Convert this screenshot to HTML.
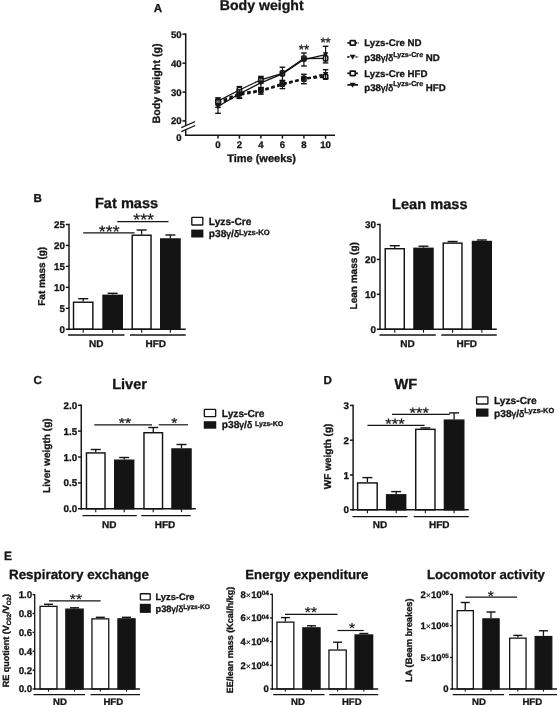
<!DOCTYPE html>
<html lang="en">
<head>
<meta charset="utf-8">
<title>Figure</title>
<style>
html,body{margin:0;padding:0;background:#fff;}
body{width:559px;height:705px;overflow:hidden;}
svg{display:block;will-change:transform;}
svg text{font-family:"Liberation Sans",Arial,Helvetica,sans-serif;font-weight:bold;fill:#141414;stroke:#141414;stroke-width:0.3px;paint-order:stroke;text-rendering:geometricPrecision;}
svg text .sym{font-weight:normal;stroke-width:0.5px;font-size:0.92em;}
svg text .x{font-weight:normal;stroke-width:0.2px;}
svg text.st{font-weight:normal;stroke-width:0.25px;}
</style>
</head>
<body>
<svg width="559" height="705" viewBox="0 0 559 705">
<rect x="0" y="0" width="559" height="705" fill="#fff"/>
<text x="153.8" y="11.8" font-size="11.6" text-anchor="start" >A</text>
<text x="219.8" y="10.4" font-size="14.1" text-anchor="start" >Body weight</text>
<line x1="185.7" y1="33.35" x2="185.7" y2="135.95" stroke="#141414" stroke-width="1.5" />
<line x1="184.95" y1="135.2" x2="335" y2="135.2" stroke="#141414" stroke-width="1.5" />
<polygon points="181.3,132.1 195.2,125.9 195.2,121.1 181.3,127.3" fill="#fff"/>
<line x1="181.3" y1="127.7" x2="195.2" y2="121.5" stroke="#141414" stroke-width="1.3" />
<line x1="181.3" y1="131.7" x2="195.2" y2="125.5" stroke="#141414" stroke-width="1.3" />
<line x1="182.5" y1="34.2" x2="185.7" y2="34.2" stroke="#141414" stroke-width="1.5" />
<text x="181.7" y="37.7" font-size="9.6" text-anchor="end" >50</text>
<line x1="182.5" y1="63.2" x2="185.7" y2="63.2" stroke="#141414" stroke-width="1.5" />
<text x="181.7" y="66.7" font-size="9.6" text-anchor="end" >40</text>
<line x1="182.5" y1="92.1" x2="185.7" y2="92.1" stroke="#141414" stroke-width="1.5" />
<text x="181.7" y="95.6" font-size="9.6" text-anchor="end" >30</text>
<line x1="182.5" y1="120.9" x2="185.7" y2="120.9" stroke="#141414" stroke-width="1.5" />
<text x="181.7" y="124.4" font-size="9.6" text-anchor="end" >20</text>
<text x="181.7" y="141.2" font-size="9.6" text-anchor="end" >0</text>
<line x1="218" y1="135.2" x2="218" y2="138.6" stroke="#141414" stroke-width="1.5" />
<text x="218" y="148.1" font-size="9.6" text-anchor="middle" >0</text>
<line x1="239.4" y1="135.2" x2="239.4" y2="138.6" stroke="#141414" stroke-width="1.5" />
<text x="239.4" y="148.1" font-size="9.6" text-anchor="middle" >2</text>
<line x1="260.9" y1="135.2" x2="260.9" y2="138.6" stroke="#141414" stroke-width="1.5" />
<text x="260.9" y="148.1" font-size="9.6" text-anchor="middle" >4</text>
<line x1="282.4" y1="135.2" x2="282.4" y2="138.6" stroke="#141414" stroke-width="1.5" />
<text x="282.4" y="148.1" font-size="9.6" text-anchor="middle" >6</text>
<line x1="303.9" y1="135.2" x2="303.9" y2="138.6" stroke="#141414" stroke-width="1.5" />
<text x="303.9" y="148.1" font-size="9.6" text-anchor="middle" >8</text>
<line x1="325.6" y1="135.2" x2="325.6" y2="138.6" stroke="#141414" stroke-width="1.5" />
<text x="325.6" y="148.1" font-size="9.6" text-anchor="middle" >10</text>
<text x="261.6" y="162.1" font-size="11" text-anchor="middle" >Time (weeks)</text>
<text transform="translate(159.8 83.5) rotate(-90)" font-size="10.7" text-anchor="middle">Body weight (g)</text>
<polyline points="218,102.3 239.4,93.4 260.9,90.4 282.4,83.8 303.9,78.7 325.6,76.8" fill="none" stroke="#141414" stroke-width="2.1" stroke-dasharray="3.6 2.6"/>
<rect x="215.9" y="99.8" width="4.2" height="5.0" rx="0.8" fill="#fff" stroke="#141414" stroke-width="1.6"/>
<rect x="237.3" y="90.9" width="4.2" height="5.0" rx="0.8" fill="#fff" stroke="#141414" stroke-width="1.6"/>
<rect x="258.79999999999995" y="87.9" width="4.2" height="5.0" rx="0.8" fill="#fff" stroke="#141414" stroke-width="1.6"/>
<rect x="280.29999999999995" y="81.3" width="4.2" height="5.0" rx="0.8" fill="#fff" stroke="#141414" stroke-width="1.6"/>
<rect x="301.79999999999995" y="76.2" width="4.2" height="5.0" rx="0.8" fill="#fff" stroke="#141414" stroke-width="1.6"/>
<rect x="323.5" y="74.3" width="4.2" height="5.0" rx="0.8" fill="#fff" stroke="#141414" stroke-width="1.6"/>
<polyline points="218,104.0 239.4,95.0 260.9,91.0 282.4,84.6 303.9,79.0 325.6,74.2" fill="none" stroke="#141414" stroke-width="2.1" stroke-dasharray="3.6 2.6"/>
<line x1="218" y1="100.6" x2="218" y2="107.4" stroke="#141414" stroke-width="1.2" />
<line x1="215.2" y1="100.6" x2="220.8" y2="100.6" stroke="#141414" stroke-width="1.4" />
<line x1="215.2" y1="107.4" x2="220.8" y2="107.4" stroke="#141414" stroke-width="1.4" />
<line x1="239.4" y1="91.6" x2="239.4" y2="98.4" stroke="#141414" stroke-width="1.2" />
<line x1="236.6" y1="91.6" x2="242.20000000000002" y2="91.6" stroke="#141414" stroke-width="1.4" />
<line x1="236.6" y1="98.4" x2="242.20000000000002" y2="98.4" stroke="#141414" stroke-width="1.4" />
<line x1="260.9" y1="87.8" x2="260.9" y2="94.2" stroke="#141414" stroke-width="1.2" />
<line x1="258.09999999999997" y1="87.8" x2="263.7" y2="87.8" stroke="#141414" stroke-width="1.4" />
<line x1="258.09999999999997" y1="94.2" x2="263.7" y2="94.2" stroke="#141414" stroke-width="1.4" />
<line x1="282.4" y1="80.6" x2="282.4" y2="88.6" stroke="#141414" stroke-width="1.2" />
<line x1="279.59999999999997" y1="80.6" x2="285.2" y2="80.6" stroke="#141414" stroke-width="1.4" />
<line x1="279.59999999999997" y1="88.6" x2="285.2" y2="88.6" stroke="#141414" stroke-width="1.4" />
<line x1="303.9" y1="74.3" x2="303.9" y2="83.7" stroke="#141414" stroke-width="1.2" />
<line x1="301.09999999999997" y1="74.3" x2="306.7" y2="74.3" stroke="#141414" stroke-width="1.4" />
<line x1="301.09999999999997" y1="83.7" x2="306.7" y2="83.7" stroke="#141414" stroke-width="1.4" />
<line x1="325.6" y1="69.7" x2="325.6" y2="78.7" stroke="#141414" stroke-width="1.2" />
<line x1="322.8" y1="69.7" x2="328.40000000000003" y2="69.7" stroke="#141414" stroke-width="1.4" />
<line x1="322.8" y1="78.7" x2="328.40000000000003" y2="78.7" stroke="#141414" stroke-width="1.4" />
<polygon points="215.3,101.732 220.7,101.732 218,106.7" fill="#141414"/>
<polygon points="236.70000000000002,92.732 242.1,92.732 239.4,97.7" fill="#141414"/>
<polygon points="258.2,88.732 263.59999999999997,88.732 260.9,93.7" fill="#141414"/>
<polygon points="279.7,82.332 285.09999999999997,82.332 282.4,87.3" fill="#141414"/>
<polygon points="301.2,76.732 306.59999999999997,76.732 303.9,81.7" fill="#141414"/>
<polygon points="322.90000000000003,71.932 328.3,71.932 325.6,76.9" fill="#141414"/>
<polyline points="218,101.2 239.4,90.0 260.9,79.8 282.4,73.4 303.9,58.5 325.6,58.4" fill="none" stroke="#141414" stroke-width="1.3" />
<line x1="218" y1="97.8" x2="218" y2="104.60000000000001" stroke="#141414" stroke-width="1.2" />
<line x1="215.2" y1="97.8" x2="220.8" y2="97.8" stroke="#141414" stroke-width="1.4" />
<line x1="215.2" y1="104.60000000000001" x2="220.8" y2="104.60000000000001" stroke="#141414" stroke-width="1.4" />
<line x1="239.4" y1="86.6" x2="239.4" y2="93.4" stroke="#141414" stroke-width="1.2" />
<line x1="236.6" y1="86.6" x2="242.20000000000002" y2="86.6" stroke="#141414" stroke-width="1.4" />
<line x1="236.6" y1="93.4" x2="242.20000000000002" y2="93.4" stroke="#141414" stroke-width="1.4" />
<line x1="260.9" y1="76.39999999999999" x2="260.9" y2="83.2" stroke="#141414" stroke-width="1.2" />
<line x1="258.09999999999997" y1="76.39999999999999" x2="263.7" y2="76.39999999999999" stroke="#141414" stroke-width="1.4" />
<line x1="258.09999999999997" y1="83.2" x2="263.7" y2="83.2" stroke="#141414" stroke-width="1.4" />
<rect x="215.9" y="98.7" width="4.2" height="5.0" rx="0.8" fill="#fff" stroke="#141414" stroke-width="1.6"/>
<rect x="237.3" y="87.5" width="4.2" height="5.0" rx="0.8" fill="#fff" stroke="#141414" stroke-width="1.6"/>
<rect x="258.79999999999995" y="77.3" width="4.2" height="5.0" rx="0.8" fill="#fff" stroke="#141414" stroke-width="1.6"/>
<rect x="280.29999999999995" y="70.9" width="4.2" height="5.0" rx="0.8" fill="#fff" stroke="#141414" stroke-width="1.6"/>
<rect x="301.79999999999995" y="56.0" width="4.2" height="5.0" rx="0.8" fill="#fff" stroke="#141414" stroke-width="1.6"/>
<rect x="323.5" y="55.9" width="4.2" height="5.0" rx="0.8" fill="#fff" stroke="#141414" stroke-width="1.6"/>
<polyline points="218,106.5 239.4,93.8 260.9,82.8 282.4,73.8 303.9,59.5 325.6,54.6" fill="none" stroke="#141414" stroke-width="1.3" />
<line x1="218" y1="99.7" x2="218" y2="113.3" stroke="#141414" stroke-width="1.2" />
<line x1="215.2" y1="99.7" x2="220.8" y2="99.7" stroke="#141414" stroke-width="1.4" />
<line x1="215.2" y1="113.3" x2="220.8" y2="113.3" stroke="#141414" stroke-width="1.4" />
<line x1="239.4" y1="89.8" x2="239.4" y2="97.8" stroke="#141414" stroke-width="1.2" />
<line x1="236.6" y1="89.8" x2="242.20000000000002" y2="89.8" stroke="#141414" stroke-width="1.4" />
<line x1="236.6" y1="97.8" x2="242.20000000000002" y2="97.8" stroke="#141414" stroke-width="1.4" />
<line x1="260.9" y1="78.1" x2="260.9" y2="87.5" stroke="#141414" stroke-width="1.2" />
<line x1="258.09999999999997" y1="78.1" x2="263.7" y2="78.1" stroke="#141414" stroke-width="1.4" />
<line x1="258.09999999999997" y1="87.5" x2="263.7" y2="87.5" stroke="#141414" stroke-width="1.4" />
<line x1="282.4" y1="67.2" x2="282.4" y2="80.39999999999999" stroke="#141414" stroke-width="1.2" />
<line x1="279.59999999999997" y1="67.2" x2="285.2" y2="67.2" stroke="#141414" stroke-width="1.4" />
<line x1="279.59999999999997" y1="80.39999999999999" x2="285.2" y2="80.39999999999999" stroke="#141414" stroke-width="1.4" />
<line x1="303.9" y1="53.0" x2="303.9" y2="66.0" stroke="#141414" stroke-width="1.2" />
<line x1="301.09999999999997" y1="53.0" x2="306.7" y2="53.0" stroke="#141414" stroke-width="1.4" />
<line x1="301.09999999999997" y1="66.0" x2="306.7" y2="66.0" stroke="#141414" stroke-width="1.4" />
<line x1="325.6" y1="46.3" x2="325.6" y2="62.900000000000006" stroke="#141414" stroke-width="1.2" />
<line x1="322.8" y1="46.3" x2="328.40000000000003" y2="46.3" stroke="#141414" stroke-width="1.4" />
<line x1="322.8" y1="62.900000000000006" x2="328.40000000000003" y2="62.900000000000006" stroke="#141414" stroke-width="1.4" />
<polygon points="215.3,104.232 220.7,104.232 218,109.2" fill="#141414"/>
<polygon points="236.70000000000002,91.532 242.1,91.532 239.4,96.5" fill="#141414"/>
<polygon points="258.2,80.532 263.59999999999997,80.532 260.9,85.5" fill="#141414"/>
<polygon points="279.7,71.532 285.09999999999997,71.532 282.4,76.5" fill="#141414"/>
<polygon points="301.2,57.232 306.59999999999997,57.232 303.9,62.2" fill="#141414"/>
<polygon points="322.90000000000003,52.332 328.3,52.332 325.6,57.300000000000004" fill="#141414"/>
<text x="304" y="53.6" font-size="13.4" text-anchor="middle" class="st">**</text>
<text x="325.6" y="47.4" font-size="13.4" text-anchor="middle" class="st">**</text>
<line x1="347.3" y1="42.9" x2="351" y2="42.9" stroke="#141414" stroke-width="1.7" />
<line x1="355" y1="42.9" x2="357.2" y2="42.9" stroke="#141414" stroke-width="1.7" />
<line x1="357.9" y1="42.9" x2="358.5" y2="42.9" stroke="#141414" stroke-width="1.5" />
<rect x="350.25" y="40.699999999999996" width="5.0" height="4.5" rx="0.5" fill="#fff" stroke="#141414" stroke-width="1.7"/>
<text x="364.3" y="46.3" font-size="9.7" text-anchor="start" >Lyzs-Cre ND</text>
<line x1="347.3" y1="56.9" x2="349.5" y2="56.9" stroke="#141414" stroke-width="1.7" />
<line x1="355.6" y1="56.9" x2="356.7" y2="56.9" stroke="#141414" stroke-width="1.7" />
<line x1="357.6" y1="56.9" x2="358.2" y2="56.9" stroke="#141414" stroke-width="1.5" />
<polygon points="350.0,55.0 355.20000000000005,55.0 352.6,59.3" fill="#141414" stroke="#141414" stroke-width="0.5" stroke-linejoin="round"/>
<text x="364.3" y="61.3" font-size="9.7" text-anchor="start" >p38<tspan class="sym">γ</tspan>/<tspan class="sym">δ</tspan><tspan font-size="7.18" dy="-4.5">Lyzs-Cre</tspan><tspan dy="4.5"> ND</tspan></text>
<line x1="347.3" y1="73.3" x2="358.0" y2="73.3" stroke="#141414" stroke-width="1.7" />
<rect x="350.25" y="71.1" width="5.0" height="4.5" rx="0.5" fill="#fff" stroke="#141414" stroke-width="1.7"/>
<text x="364.3" y="76.7" font-size="9.7" text-anchor="start" >Lyzs-Cre HFD</text>
<line x1="347.3" y1="84.9" x2="358.0" y2="84.9" stroke="#141414" stroke-width="1.7" />
<polygon points="350.0,83.0 355.20000000000005,83.0 352.6,87.30000000000001" fill="#141414" stroke="#141414" stroke-width="0.5" stroke-linejoin="round"/>
<text x="364.3" y="90.5" font-size="9.7" text-anchor="start" >p38<tspan class="sym">γ</tspan>/<tspan class="sym">δ</tspan><tspan font-size="7.18" dy="-4.5">Lyzs-Cre</tspan><tspan dy="4.5"> HFD</tspan></text>
<text x="33.6" y="202.0" font-size="11.6" text-anchor="start" >B</text>
<text x="126.6" y="208.4" font-size="14.6" text-anchor="middle" >Fat mass</text>
<line x1="83.19999999999999" y1="298.7" x2="83.19999999999999" y2="301.5" stroke="#141414" stroke-width="1.3" />
<line x1="78.19999999999999" y1="298.7" x2="88.19999999999999" y2="298.7" stroke="#141414" stroke-width="1.4" />
<rect x="73.52499999999999" y="302.225" width="19.349999999999998" height="27.025" fill="#fff" stroke="#141414" stroke-width="1.45"/>
<line x1="83.19999999999999" y1="329.25" x2="83.19999999999999" y2="332.65" stroke="#141414" stroke-width="1.1" />
<line x1="112.65" y1="293.3" x2="112.65" y2="294.6" stroke="#141414" stroke-width="1.3" />
<line x1="107.65" y1="293.3" x2="117.65" y2="293.3" stroke="#141414" stroke-width="1.4" />
<rect x="103.02499999999999" y="295.32500000000005" width="19.250000000000004" height="33.924999999999976" fill="#141414" stroke="#141414" stroke-width="1.45"/>
<line x1="112.65" y1="329.25" x2="112.65" y2="332.65" stroke="#141414" stroke-width="1.1" />
<line x1="141.625" y1="230" x2="141.625" y2="234.5" stroke="#141414" stroke-width="1.3" />
<line x1="136.625" y1="230" x2="146.625" y2="230" stroke="#141414" stroke-width="1.4" />
<rect x="132.225" y="235.225" width="18.8" height="94.025" fill="#fff" stroke="#141414" stroke-width="1.45"/>
<line x1="141.625" y1="329.25" x2="141.625" y2="332.65" stroke="#141414" stroke-width="1.1" />
<line x1="170.375" y1="235" x2="170.375" y2="238.25" stroke="#141414" stroke-width="1.3" />
<line x1="165.375" y1="235" x2="175.375" y2="235" stroke="#141414" stroke-width="1.4" />
<rect x="160.725" y="238.975" width="19.3" height="90.275" fill="#141414" stroke="#141414" stroke-width="1.45"/>
<line x1="170.375" y1="329.25" x2="170.375" y2="332.65" stroke="#141414" stroke-width="1.1" />
<line x1="69.0" y1="223.775" x2="69.0" y2="329.975" stroke="#141414" stroke-width="1.45" />
<line x1="68.275" y1="329.25" x2="185.75" y2="329.25" stroke="#141414" stroke-width="1.45" />
<line x1="65.8" y1="329.25" x2="69.0" y2="329.25" stroke="#141414" stroke-width="1.45" />
<text x="64.9" y="332.76" font-size="9.8" text-anchor="end" >0</text>
<line x1="65.8" y1="308.3" x2="69.0" y2="308.3" stroke="#141414" stroke-width="1.45" />
<text x="64.9" y="311.81" font-size="9.8" text-anchor="end" >5</text>
<line x1="65.8" y1="287.35" x2="69.0" y2="287.35" stroke="#141414" stroke-width="1.45" />
<text x="64.9" y="290.86" font-size="9.8" text-anchor="end" >10</text>
<line x1="65.8" y1="266.4" x2="69.0" y2="266.4" stroke="#141414" stroke-width="1.45" />
<text x="64.9" y="269.91" font-size="9.8" text-anchor="end" >15</text>
<line x1="65.8" y1="245.45" x2="69.0" y2="245.45" stroke="#141414" stroke-width="1.45" />
<text x="64.9" y="248.96" font-size="9.8" text-anchor="end" >20</text>
<line x1="65.8" y1="224.5" x2="69.0" y2="224.5" stroke="#141414" stroke-width="1.45" />
<text x="64.9" y="228.01" font-size="9.8" text-anchor="end" >25</text>
<line x1="68" y1="335" x2="124.5" y2="335" stroke="#141414" stroke-width="1.33" />
<text x="96.3" y="347.2" font-size="10" text-anchor="middle" >ND</text>
<line x1="130" y1="335" x2="185.75" y2="335" stroke="#141414" stroke-width="1.33" />
<text x="155.8" y="347.2" font-size="10" text-anchor="middle" >HFD</text>
<text transform="translate(44.9 276.3) rotate(-90)" font-size="10" text-anchor="middle">Fat mass (g)</text>
<line x1="83.2" y1="232.9" x2="134.6" y2="232.9" stroke="#141414" stroke-width="1.2" />
<text transform="translate(109.2 236.5) scale(1 0.92)" font-size="17.7" text-anchor="middle" class="st">***</text>
<line x1="117.2" y1="221.6" x2="168.5" y2="221.6" stroke="#141414" stroke-width="1.2" />
<text transform="translate(143.6 225.2) scale(1 0.92)" font-size="17.7" text-anchor="middle" class="st">***</text>
<rect x="191.79999999999998" y="217.4" width="11.0" height="7.599999999999983" rx="0.6" fill="#fff" stroke="#141414" stroke-width="1.35"/>
<rect x="191.2" y="229.6" width="12.2" height="7.900000000000006" fill="#141414"/>
<text x="208.8" y="225" font-size="10.2" text-anchor="start" >Lyzs-Cre</text>
<text x="208.8" y="237.2" font-size="10.2" text-anchor="start" >p38<tspan class="sym">γ</tspan>/<tspan class="sym">δ</tspan><tspan font-size="7.65" dy="-2.6">Lyzs-KO</tspan></text>
<text x="429.8" y="208.8" font-size="14.6" text-anchor="middle" >Lean mass</text>
<line x1="394.75" y1="245.7" x2="394.75" y2="248" stroke="#141414" stroke-width="1.3" />
<line x1="389.75" y1="245.7" x2="399.75" y2="245.7" stroke="#141414" stroke-width="1.4" />
<rect x="385.225" y="248.725" width="19.05" height="80.525" fill="#fff" stroke="#141414" stroke-width="1.45"/>
<line x1="394.75" y1="329.25" x2="394.75" y2="332.65" stroke="#141414" stroke-width="1.1" />
<line x1="423.5" y1="246.2" x2="423.5" y2="247.6" stroke="#141414" stroke-width="1.3" />
<line x1="418.5" y1="246.2" x2="428.5" y2="246.2" stroke="#141414" stroke-width="1.4" />
<rect x="413.975" y="248.325" width="19.05" height="80.92500000000001" fill="#141414" stroke="#141414" stroke-width="1.45"/>
<line x1="423.5" y1="329.25" x2="423.5" y2="332.65" stroke="#141414" stroke-width="1.1" />
<line x1="452.6" y1="241.5" x2="452.6" y2="242.4" stroke="#141414" stroke-width="1.3" />
<line x1="447.6" y1="241.5" x2="457.6" y2="241.5" stroke="#141414" stroke-width="1.4" />
<rect x="443.225" y="243.125" width="18.74999999999999" height="86.125" fill="#fff" stroke="#141414" stroke-width="1.45"/>
<line x1="452.6" y1="329.25" x2="452.6" y2="332.65" stroke="#141414" stroke-width="1.1" />
<line x1="481.875" y1="240.0" x2="481.875" y2="240.8" stroke="#141414" stroke-width="1.3" />
<line x1="476.875" y1="240.0" x2="486.875" y2="240.0" stroke="#141414" stroke-width="1.4" />
<rect x="472.475" y="241.525" width="18.8" height="87.725" fill="#141414" stroke="#141414" stroke-width="1.45"/>
<line x1="481.875" y1="329.25" x2="481.875" y2="332.65" stroke="#141414" stroke-width="1.1" />
<line x1="380" y1="223.775" x2="380" y2="329.975" stroke="#141414" stroke-width="1.45" />
<line x1="379.275" y1="329.25" x2="496.75" y2="329.25" stroke="#141414" stroke-width="1.45" />
<line x1="376.8" y1="329.25" x2="380" y2="329.25" stroke="#141414" stroke-width="1.45" />
<text x="375.9" y="332.76" font-size="9.8" text-anchor="end" >0</text>
<line x1="376.8" y1="294.3333333333333" x2="380" y2="294.3333333333333" stroke="#141414" stroke-width="1.45" />
<text x="375.9" y="297.84" font-size="9.8" text-anchor="end" >10</text>
<line x1="376.8" y1="259.4166666666667" x2="380" y2="259.4166666666667" stroke="#141414" stroke-width="1.45" />
<text x="375.9" y="262.93" font-size="9.8" text-anchor="end" >20</text>
<line x1="376.8" y1="224.5" x2="380" y2="224.5" stroke="#141414" stroke-width="1.45" />
<text x="375.9" y="228.01" font-size="9.8" text-anchor="end" >30</text>
<line x1="379.5" y1="335" x2="435.75" y2="335" stroke="#141414" stroke-width="1.33" />
<text x="407.5" y="347.2" font-size="10" text-anchor="middle" >ND</text>
<line x1="441.25" y1="335" x2="496.75" y2="335" stroke="#141414" stroke-width="1.33" />
<text x="466.8" y="347.2" font-size="10" text-anchor="middle" >HFD</text>
<text transform="translate(356.6 275.8) rotate(-90)" font-size="10" text-anchor="middle">Lean mass (g)</text>
<text x="33.4" y="383.8" font-size="11.6" text-anchor="start" >C</text>
<text x="129.6" y="388.8" font-size="14.6" text-anchor="middle" >Liver</text>
<line x1="95.75" y1="449.5" x2="95.75" y2="452.2" stroke="#141414" stroke-width="1.3" />
<line x1="90.75" y1="449.5" x2="100.75" y2="449.5" stroke="#141414" stroke-width="1.4" />
<rect x="86.475" y="452.925" width="18.55" height="55.82500000000001" fill="#fff" stroke="#141414" stroke-width="1.45"/>
<line x1="95.75" y1="508.75" x2="95.75" y2="512.15" stroke="#141414" stroke-width="1.1" />
<line x1="124.2" y1="457.5" x2="124.2" y2="459.5" stroke="#141414" stroke-width="1.3" />
<line x1="119.2" y1="457.5" x2="129.2" y2="457.5" stroke="#141414" stroke-width="1.4" />
<rect x="114.725" y="460.225" width="18.950000000000006" height="48.525" fill="#141414" stroke="#141414" stroke-width="1.45"/>
<line x1="124.2" y1="508.75" x2="124.2" y2="512.15" stroke="#141414" stroke-width="1.1" />
<line x1="153.25" y1="427.5" x2="153.25" y2="432" stroke="#141414" stroke-width="1.3" />
<line x1="148.25" y1="427.5" x2="158.25" y2="427.5" stroke="#141414" stroke-width="1.4" />
<rect x="143.975" y="432.725" width="18.55" height="76.025" fill="#fff" stroke="#141414" stroke-width="1.45"/>
<line x1="153.25" y1="508.75" x2="153.25" y2="512.15" stroke="#141414" stroke-width="1.1" />
<line x1="181.5" y1="444.5" x2="181.5" y2="448.25" stroke="#141414" stroke-width="1.3" />
<line x1="176.5" y1="444.5" x2="186.5" y2="444.5" stroke="#141414" stroke-width="1.4" />
<rect x="171.975" y="448.975" width="19.05" height="59.775" fill="#141414" stroke="#141414" stroke-width="1.45"/>
<line x1="181.5" y1="508.75" x2="181.5" y2="512.15" stroke="#141414" stroke-width="1.1" />
<line x1="81.25" y1="404.525" x2="81.25" y2="509.475" stroke="#141414" stroke-width="1.45" />
<line x1="80.525" y1="508.75" x2="195.75" y2="508.75" stroke="#141414" stroke-width="1.45" />
<line x1="78.05" y1="508.75" x2="81.25" y2="508.75" stroke="#141414" stroke-width="1.45" />
<text x="77.15" y="512.26" font-size="9.8" text-anchor="end" >0.0</text>
<line x1="78.05" y1="482.875" x2="81.25" y2="482.875" stroke="#141414" stroke-width="1.45" />
<text x="77.15" y="486.38" font-size="9.8" text-anchor="end" >0.5</text>
<line x1="78.05" y1="457.0" x2="81.25" y2="457.0" stroke="#141414" stroke-width="1.45" />
<text x="77.15" y="460.51" font-size="9.8" text-anchor="end" >1.0</text>
<line x1="78.05" y1="431.125" x2="81.25" y2="431.125" stroke="#141414" stroke-width="1.45" />
<text x="77.15" y="434.63" font-size="9.8" text-anchor="end" >1.5</text>
<line x1="78.05" y1="405.25" x2="81.25" y2="405.25" stroke="#141414" stroke-width="1.45" />
<text x="77.15" y="408.76" font-size="9.8" text-anchor="end" >2.0</text>
<line x1="82.5" y1="515.6" x2="136.75" y2="515.6" stroke="#141414" stroke-width="1.33" />
<text x="109.3" y="527.6" font-size="10" text-anchor="middle" >ND</text>
<line x1="141.25" y1="515.6" x2="190.75" y2="515.6" stroke="#141414" stroke-width="1.33" />
<text x="165" y="527.6" font-size="10" text-anchor="middle" >HFD</text>
<text transform="translate(49.6 455.6) rotate(-90)" font-size="10.1" text-anchor="middle">Liver weigth (g)</text>
<line x1="94.25" y1="424.8" x2="152" y2="424.8" stroke="#141414" stroke-width="1.2" />
<text transform="translate(125.0 427.5) scale(1 0.92)" font-size="15.8" text-anchor="middle" class="st">**</text>
<line x1="158.75" y1="424.8" x2="188" y2="424.8" stroke="#141414" stroke-width="1.2" />
<text transform="translate(174.3 427.5) scale(1 0.92)" font-size="15.8" text-anchor="middle" class="st">*</text>
<rect x="204.35" y="409.40000000000003" width="11.3" height="7.3" rx="0.6" fill="#fff" stroke="#141414" stroke-width="1.35"/>
<rect x="203.75" y="421.2" width="12.5" height="7.5" fill="#141414"/>
<text x="221.8" y="416.8" font-size="10.2" text-anchor="start" >Lyzs-Cre</text>
<text x="221.8" y="428.3" font-size="10.2" text-anchor="start" >p38<tspan class="sym">γ</tspan>/<tspan class="sym">δ</tspan> <tspan font-size="7.04" dy="-2.3">Lyzs-KO</tspan></text>
<text x="323.4" y="383.8" font-size="11.6" text-anchor="start" >D</text>
<text x="405.8" y="388.8" font-size="14.6" text-anchor="middle" >WF</text>
<line x1="367.4" y1="477.6" x2="367.4" y2="482.2" stroke="#141414" stroke-width="1.3" />
<line x1="362.4" y1="477.6" x2="372.4" y2="477.6" stroke="#141414" stroke-width="1.4" />
<rect x="357.625" y="482.925" width="19.55" height="26.87500000000002" fill="#fff" stroke="#141414" stroke-width="1.45"/>
<line x1="367.4" y1="509.8" x2="367.4" y2="513.2" stroke="#141414" stroke-width="1.1" />
<line x1="396.15" y1="491.6" x2="396.15" y2="494.1" stroke="#141414" stroke-width="1.3" />
<line x1="391.15" y1="491.6" x2="401.15" y2="491.6" stroke="#141414" stroke-width="1.4" />
<rect x="386.625" y="494.82500000000005" width="19.05" height="14.974999999999989" fill="#141414" stroke="#141414" stroke-width="1.45"/>
<line x1="396.15" y1="509.8" x2="396.15" y2="513.2" stroke="#141414" stroke-width="1.1" />
<line x1="425.35" y1="427.9" x2="425.35" y2="428.6" stroke="#141414" stroke-width="1.3" />
<line x1="420.35" y1="427.9" x2="430.35" y2="427.9" stroke="#141414" stroke-width="1.4" />
<rect x="415.725" y="429.32500000000005" width="19.24999999999999" height="80.475" fill="#fff" stroke="#141414" stroke-width="1.45"/>
<line x1="425.35" y1="509.8" x2="425.35" y2="513.2" stroke="#141414" stroke-width="1.1" />
<line x1="454.1" y1="412.9" x2="454.1" y2="419.4" stroke="#141414" stroke-width="1.3" />
<line x1="449.1" y1="412.9" x2="459.1" y2="412.9" stroke="#141414" stroke-width="1.4" />
<rect x="444.425" y="420.125" width="19.350000000000012" height="89.67500000000004" fill="#141414" stroke="#141414" stroke-width="1.45"/>
<line x1="454.1" y1="509.8" x2="454.1" y2="513.2" stroke="#141414" stroke-width="1.1" />
<line x1="353.1" y1="404.67499999999995" x2="353.1" y2="510.52500000000003" stroke="#141414" stroke-width="1.45" />
<line x1="352.375" y1="509.8" x2="468.75" y2="509.8" stroke="#141414" stroke-width="1.45" />
<line x1="349.90000000000003" y1="509.8" x2="353.1" y2="509.8" stroke="#141414" stroke-width="1.45" />
<text x="349.0" y="513.31" font-size="9.8" text-anchor="end" >0</text>
<line x1="349.90000000000003" y1="475.0" x2="353.1" y2="475.0" stroke="#141414" stroke-width="1.45" />
<text x="349.0" y="478.51" font-size="9.8" text-anchor="end" >1</text>
<line x1="349.90000000000003" y1="440.2" x2="353.1" y2="440.2" stroke="#141414" stroke-width="1.45" />
<text x="349.0" y="443.71" font-size="9.8" text-anchor="end" >2</text>
<line x1="349.90000000000003" y1="405.4" x2="353.1" y2="405.4" stroke="#141414" stroke-width="1.45" />
<text x="349.0" y="408.91" font-size="9.8" text-anchor="end" >3</text>
<line x1="352.5" y1="516.6" x2="407.5" y2="516.6" stroke="#141414" stroke-width="1.33" />
<text x="380" y="527.8" font-size="10" text-anchor="middle" >ND</text>
<line x1="413.75" y1="516.6" x2="468.75" y2="516.6" stroke="#141414" stroke-width="1.33" />
<text x="439.3" y="527.8" font-size="10" text-anchor="middle" >HFD</text>
<text transform="translate(330.6 456.4) rotate(-90)" font-size="10" text-anchor="middle">WF weigth (g)</text>
<line x1="367.5" y1="425.3" x2="424.6" y2="425.3" stroke="#141414" stroke-width="1.2" />
<text transform="translate(395 428.8) scale(1 0.92)" font-size="16.6" text-anchor="middle" class="st">***</text>
<line x1="392" y1="414.4" x2="449.8" y2="414.4" stroke="#141414" stroke-width="1.2" />
<text transform="translate(419.3 418.3) scale(1 0.92)" font-size="16.6" text-anchor="middle" class="st">***</text>
<rect x="476.6" y="396.90000000000003" width="11.3" height="7.100000000000011" rx="0.6" fill="#fff" stroke="#141414" stroke-width="1.35"/>
<rect x="476" y="408.5" width="12.5" height="8.199999999999989" fill="#141414"/>
<text x="494" y="404.0" font-size="10.2" text-anchor="start" >Lyzs-Cre</text>
<text x="494" y="417.0" font-size="10.2" text-anchor="start" >p38<tspan class="sym">γ</tspan>/<tspan class="sym">δ</tspan><tspan font-size="7.45" dy="-4.3">Lyzs-KO</tspan></text>
<text x="3.9" y="559.6" font-size="12" text-anchor="start" >E</text>
<text x="9.0" y="579.4" font-size="13.4" text-anchor="start" >Respiratory exchange</text>
<line x1="48.5" y1="604.3" x2="48.5" y2="605.7" stroke="#141414" stroke-width="1.3" />
<line x1="44.0" y1="604.3" x2="53.0" y2="604.3" stroke="#141414" stroke-width="1.4" />
<rect x="40.05" y="606.35" width="16.900000000000002" height="82.64999999999995" fill="#fff" stroke="#141414" stroke-width="1.3"/>
<line x1="48.5" y1="689.0" x2="48.5" y2="691.6" stroke="#141414" stroke-width="1.1" />
<line x1="74.5" y1="607.8" x2="74.5" y2="608.5" stroke="#141414" stroke-width="1.3" />
<line x1="70.0" y1="607.8" x2="79.0" y2="607.8" stroke="#141414" stroke-width="1.4" />
<rect x="65.85000000000001" y="609.15" width="17.299999999999994" height="79.85" fill="#141414" stroke="#141414" stroke-width="1.3"/>
<line x1="74.5" y1="689.0" x2="74.5" y2="691.6" stroke="#141414" stroke-width="1.1" />
<line x1="100.35" y1="617.3" x2="100.35" y2="618.2" stroke="#141414" stroke-width="1.3" />
<line x1="95.85" y1="617.3" x2="104.85" y2="617.3" stroke="#141414" stroke-width="1.4" />
<rect x="91.95" y="618.85" width="16.800000000000008" height="70.14999999999995" fill="#fff" stroke="#141414" stroke-width="1.3"/>
<line x1="100.35" y1="689.0" x2="100.35" y2="691.6" stroke="#141414" stroke-width="1.1" />
<line x1="126.5" y1="617.3" x2="126.5" y2="618.2" stroke="#141414" stroke-width="1.3" />
<line x1="122.0" y1="617.3" x2="131.0" y2="617.3" stroke="#141414" stroke-width="1.4" />
<rect x="117.95" y="618.85" width="17.09999999999999" height="70.14999999999995" fill="#141414" stroke="#141414" stroke-width="1.3"/>
<line x1="126.5" y1="689.0" x2="126.5" y2="691.6" stroke="#141414" stroke-width="1.1" />
<line x1="34.7" y1="593.95" x2="34.7" y2="689.65" stroke="#141414" stroke-width="1.3" />
<line x1="34.050000000000004" y1="689.0" x2="140" y2="689.0" stroke="#141414" stroke-width="1.3" />
<line x1="32.5" y1="689.0" x2="34.7" y2="689.0" stroke="#141414" stroke-width="1.3" />
<text x="32.1" y="692.47" font-size="9.7" text-anchor="end" >0.0</text>
<line x1="32.5" y1="670.12" x2="34.7" y2="670.12" stroke="#141414" stroke-width="1.3" />
<text x="32.1" y="673.59" font-size="9.7" text-anchor="end" >0.2</text>
<line x1="32.5" y1="651.24" x2="34.7" y2="651.24" stroke="#141414" stroke-width="1.3" />
<text x="32.1" y="654.71" font-size="9.7" text-anchor="end" >0.4</text>
<line x1="32.5" y1="632.36" x2="34.7" y2="632.36" stroke="#141414" stroke-width="1.3" />
<text x="32.1" y="635.83" font-size="9.7" text-anchor="end" >0.6</text>
<line x1="32.5" y1="613.48" x2="34.7" y2="613.48" stroke="#141414" stroke-width="1.3" />
<text x="32.1" y="616.95" font-size="9.7" text-anchor="end" >0.8</text>
<line x1="32.5" y1="594.6" x2="34.7" y2="594.6" stroke="#141414" stroke-width="1.3" />
<text x="32.1" y="598.07" font-size="9.7" text-anchor="end" >1.0</text>
<line x1="33.5" y1="694.6" x2="85" y2="694.6" stroke="#141414" stroke-width="1.1800000000000002" />
<text x="60" y="704.5" font-size="9.6" text-anchor="middle" >ND</text>
<line x1="90.5" y1="694.6" x2="140" y2="694.6" stroke="#141414" stroke-width="1.1800000000000002" />
<text x="113.3" y="704.5" font-size="9.6" text-anchor="middle" >HFD</text>
<text transform="translate(9.0 640.6) rotate(-90)" font-size="9.0" text-anchor="middle">RE quotient (V<tspan font-size="6.2" dy="1.7">C02</tspan><tspan dy="-1.7">/V</tspan><tspan font-size="6.2" dy="1.7">O2</tspan><tspan dy="-1.7">)</tspan></text>
<line x1="49" y1="600.9" x2="100.6" y2="600.9" stroke="#141414" stroke-width="1.2" />
<text transform="translate(75.9 603.8) scale(1 0.92)" font-size="15.5" text-anchor="middle" class="st">**</text>
<rect x="140.4" y="593.7" width="9.8" height="6.199999999999977" rx="0.6" fill="#fff" stroke="#141414" stroke-width="1.35"/>
<rect x="139.8" y="603.8" width="11.0" height="9.100000000000023" fill="#141414"/>
<text x="155.5" y="599.7" font-size="9.3" text-anchor="start" >Lyzs-Cre</text>
<text x="155.5" y="612.2" font-size="9.3" text-anchor="start" >p38<tspan class="sym">γ</tspan>/<tspan class="sym">δ</tspan><tspan font-size="6.7" dy="-3.16">Lyzs-KO</tspan></text>
<text x="306.9" y="579.4" font-size="13.2" text-anchor="middle" >Energy expenditure</text>
<line x1="285.4" y1="617.6" x2="285.4" y2="621.5" stroke="#141414" stroke-width="1.3" />
<line x1="280.9" y1="617.6" x2="289.9" y2="617.6" stroke="#141414" stroke-width="1.4" />
<rect x="276.95" y="622.15" width="16.899999999999988" height="66.85" fill="#fff" stroke="#141414" stroke-width="1.3"/>
<line x1="285.4" y1="689.0" x2="285.4" y2="691.6" stroke="#141414" stroke-width="1.1" />
<line x1="311.45" y1="625.8" x2="311.45" y2="627.2" stroke="#141414" stroke-width="1.3" />
<line x1="306.95" y1="625.8" x2="315.95" y2="625.8" stroke="#141414" stroke-width="1.4" />
<rect x="302.84999999999997" y="627.85" width="17.2" height="61.149999999999956" fill="#141414" stroke="#141414" stroke-width="1.3"/>
<line x1="311.45" y1="689.0" x2="311.45" y2="691.6" stroke="#141414" stroke-width="1.1" />
<line x1="337.6" y1="642.2" x2="337.6" y2="649.4" stroke="#141414" stroke-width="1.3" />
<line x1="333.1" y1="642.2" x2="342.1" y2="642.2" stroke="#141414" stroke-width="1.4" />
<rect x="328.95" y="650.05" width="17.299999999999965" height="38.950000000000024" fill="#fff" stroke="#141414" stroke-width="1.3"/>
<line x1="337.6" y1="689.0" x2="337.6" y2="691.6" stroke="#141414" stroke-width="1.1" />
<line x1="363.85" y1="633.5" x2="363.85" y2="634.3" stroke="#141414" stroke-width="1.3" />
<line x1="359.35" y1="633.5" x2="368.35" y2="633.5" stroke="#141414" stroke-width="1.4" />
<rect x="355.04999999999995" y="634.9499999999999" width="17.600000000000033" height="54.05000000000005" fill="#141414" stroke="#141414" stroke-width="1.3"/>
<line x1="363.85" y1="689.0" x2="363.85" y2="691.6" stroke="#141414" stroke-width="1.1" />
<line x1="272.3" y1="593.65" x2="272.3" y2="689.65" stroke="#141414" stroke-width="1.3" />
<line x1="271.65000000000003" y1="689.0" x2="378.25" y2="689.0" stroke="#141414" stroke-width="1.3" />
<line x1="270.1" y1="689.0" x2="272.3" y2="689.0" stroke="#141414" stroke-width="1.3" />
<text x="268.7" y="692.4" font-size="9.5" text-anchor="end" >0</text>
<line x1="270.1" y1="665.325" x2="272.3" y2="665.325" stroke="#141414" stroke-width="1.3" />
<text x="268.7" y="668.73" font-size="9.5" text-anchor="end" >2<tspan font-size="8.17" class="x" dx="0.3">×</tspan><tspan dx="0.3">10</tspan><tspan font-size="6.27" dy="-2.57">04</tspan></text>
<line x1="270.1" y1="641.65" x2="272.3" y2="641.65" stroke="#141414" stroke-width="1.3" />
<text x="268.7" y="645.05" font-size="9.5" text-anchor="end" >4<tspan font-size="8.17" class="x" dx="0.3">×</tspan><tspan dx="0.3">10</tspan><tspan font-size="6.27" dy="-2.57">04</tspan></text>
<line x1="270.1" y1="617.9749999999999" x2="272.3" y2="617.9749999999999" stroke="#141414" stroke-width="1.3" />
<text x="268.7" y="621.38" font-size="9.5" text-anchor="end" >6<tspan font-size="8.17" class="x" dx="0.3">×</tspan><tspan dx="0.3">10</tspan><tspan font-size="6.27" dy="-2.57">04</tspan></text>
<line x1="270.1" y1="594.3" x2="272.3" y2="594.3" stroke="#141414" stroke-width="1.3" />
<text x="268.7" y="597.7" font-size="9.5" text-anchor="end" >8<tspan font-size="8.17" class="x" dx="0.3">×</tspan><tspan dx="0.3">10</tspan><tspan font-size="6.27" dy="-2.57">04</tspan></text>
<line x1="273.25" y1="694.6" x2="324.5" y2="694.6" stroke="#141414" stroke-width="1.1800000000000002" />
<text x="298" y="704.5" font-size="9.6" text-anchor="middle" >ND</text>
<line x1="329.25" y1="694.6" x2="378.25" y2="694.6" stroke="#141414" stroke-width="1.1800000000000002" />
<text x="351.8" y="704.5" font-size="9.6" text-anchor="middle" >HFD</text>
<text transform="translate(232.6 640) rotate(-90)" font-size="9.0" text-anchor="middle">EE/lean mass (Kcal/h/kg)</text>
<line x1="285" y1="614.3" x2="337.5" y2="614.3" stroke="#141414" stroke-width="1.2" />
<text transform="translate(310.9 616.7) scale(1 0.92)" font-size="15.5" text-anchor="middle" class="st">**</text>
<line x1="337.5" y1="630.5" x2="363.7" y2="630.5" stroke="#141414" stroke-width="1.2" />
<text transform="translate(352 632.9) scale(1 0.92)" font-size="15.5" text-anchor="middle" class="st">*</text>
<text x="485.9" y="579.4" font-size="13.2" text-anchor="middle" >Locomotor activity</text>
<line x1="465.25" y1="602.5" x2="465.25" y2="610" stroke="#141414" stroke-width="1.3" />
<line x1="460.75" y1="602.5" x2="469.75" y2="602.5" stroke="#141414" stroke-width="1.4" />
<rect x="457.15" y="610.65" width="16.2" height="78.35" fill="#fff" stroke="#141414" stroke-width="1.3"/>
<line x1="465.25" y1="689.0" x2="465.25" y2="691.6" stroke="#141414" stroke-width="1.1" />
<line x1="491.0" y1="612" x2="491.0" y2="618.25" stroke="#141414" stroke-width="1.3" />
<line x1="486.5" y1="612" x2="495.5" y2="612" stroke="#141414" stroke-width="1.4" />
<rect x="482.9" y="618.9" width="16.2" height="70.1" fill="#141414" stroke="#141414" stroke-width="1.3"/>
<line x1="491.0" y1="689.0" x2="491.0" y2="691.6" stroke="#141414" stroke-width="1.1" />
<line x1="517.85" y1="635.4" x2="517.85" y2="637.5" stroke="#141414" stroke-width="1.3" />
<line x1="513.35" y1="635.4" x2="522.35" y2="635.4" stroke="#141414" stroke-width="1.4" />
<rect x="509.65" y="638.15" width="16.400000000000045" height="50.85" fill="#fff" stroke="#141414" stroke-width="1.3"/>
<line x1="517.85" y1="689.0" x2="517.85" y2="691.6" stroke="#141414" stroke-width="1.1" />
<line x1="543.45" y1="630.75" x2="543.45" y2="635.9" stroke="#141414" stroke-width="1.3" />
<line x1="538.95" y1="630.75" x2="547.95" y2="630.75" stroke="#141414" stroke-width="1.4" />
<rect x="535.15" y="636.55" width="16.599999999999977" height="52.450000000000024" fill="#141414" stroke="#141414" stroke-width="1.3"/>
<line x1="543.45" y1="689.0" x2="543.45" y2="691.6" stroke="#141414" stroke-width="1.1" />
<line x1="452.25" y1="593.85" x2="452.25" y2="689.65" stroke="#141414" stroke-width="1.3" />
<line x1="451.6" y1="689.0" x2="557" y2="689.0" stroke="#141414" stroke-width="1.3" />
<line x1="450.05" y1="689.0" x2="452.25" y2="689.0" stroke="#141414" stroke-width="1.3" />
<text x="448.65" y="692.4" font-size="9.5" text-anchor="end" >0</text>
<line x1="450.05" y1="657.5" x2="452.25" y2="657.5" stroke="#141414" stroke-width="1.3" />
<text x="448.65" y="660.9" font-size="9.5" text-anchor="end" >5<tspan font-size="8.17" class="x" dx="0.3">×</tspan><tspan dx="0.3">10</tspan><tspan font-size="6.27" dy="-2.57">05</tspan></text>
<line x1="450.05" y1="625.75" x2="452.25" y2="625.75" stroke="#141414" stroke-width="1.3" />
<text x="448.65" y="629.15" font-size="9.5" text-anchor="end" >1<tspan font-size="8.17" class="x" dx="0.3">×</tspan><tspan dx="0.3">10</tspan><tspan font-size="6.27" dy="-2.57">06</tspan></text>
<line x1="450.05" y1="594.5" x2="452.25" y2="594.5" stroke="#141414" stroke-width="1.3" />
<text x="448.65" y="597.9" font-size="9.5" text-anchor="end" >2<tspan font-size="8.17" class="x" dx="0.3">×</tspan><tspan dx="0.3">10</tspan><tspan font-size="6.27" dy="-2.57">06</tspan></text>
<line x1="452.75" y1="694.6" x2="504" y2="694.6" stroke="#141414" stroke-width="1.1800000000000002" />
<text x="479" y="704.5" font-size="9.6" text-anchor="middle" >ND</text>
<line x1="509" y1="694.6" x2="557" y2="694.6" stroke="#141414" stroke-width="1.1800000000000002" />
<text x="532.3" y="704.5" font-size="9.6" text-anchor="middle" >HFD</text>
<text transform="translate(411.9 640.2) rotate(-90)" font-size="9.25" text-anchor="middle">LA (Beam breakes)</text>
<line x1="465.25" y1="597.1" x2="517" y2="597.1" stroke="#141414" stroke-width="1.2" />
<text transform="translate(490.8 600.6) scale(1 0.92)" font-size="15.5" text-anchor="middle" class="st">*</text>
</svg>
</body>
</html>
